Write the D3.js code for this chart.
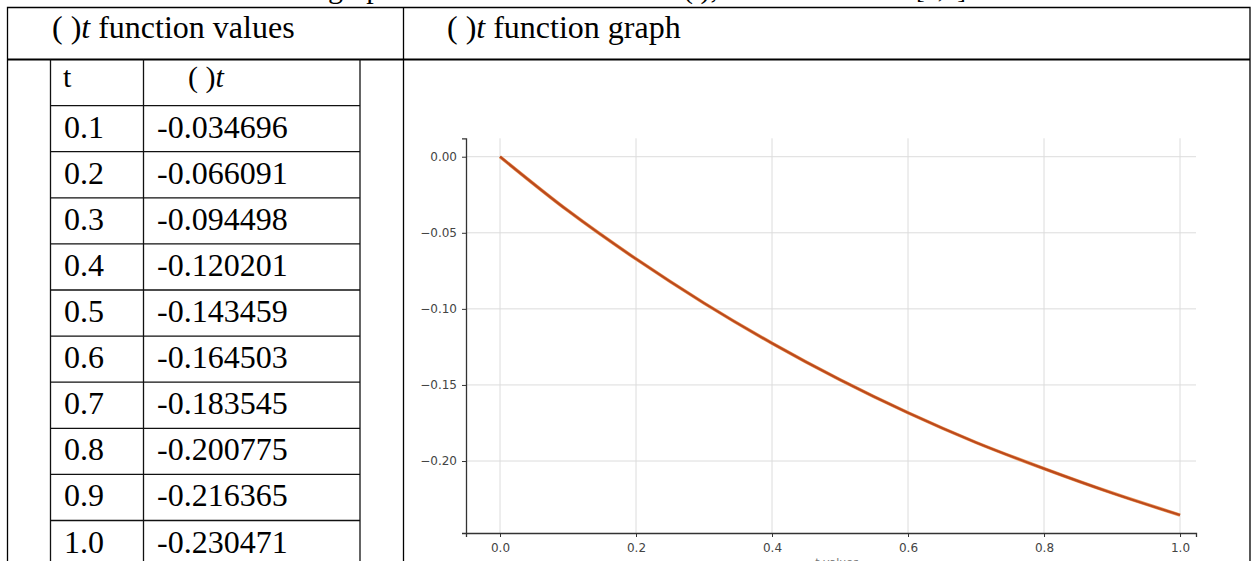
<!DOCTYPE html>
<html lang="en">
  <head>
    <meta charset="UTF-8" />
    <title>psi(t) table and graph</title>
    <script src="https://d3js.org/d3.v7.min.js"></script>
    <style>
      body {
        margin: 0;
        background-color: #ffffff;
      }
      .serif {
        font-family: "Liberation Serif", "Times New Roman", serif;
        fill: #000;
      }
      .tick text {
        font-family: "DejaVu Sans", sans-serif;
        fill: #444;
      }
    </style>
  </head>
  <body>
    <div id="my_dataviz"></div>
    <script>
      // table values
      var tLabels = ["0.1", "0.2", "0.3", "0.4", "0.5", "0.6", "0.7", "0.8", "0.9", "1.0"];
      var psiLabels = ["-0.034696", "-0.066091", "-0.094498", "-0.120201", "-0.143459",
        "-0.164503", "-0.183545", "-0.200775", "-0.216365", "-0.230471"];

      // curve
      var curveT = [0, 0.1, 0.2, 0.3, 0.4, 0.5, 0.6, 0.7, 0.8, 0.9, 1.0];
      var curvePsi = [0, -0.0355, -0.0672, -0.0962, -0.1226, -0.1466, -0.1683, -0.1878, -0.2050, -0.2210, -0.2355];

      var xTicks = [0.0, 0.2, 0.4, 0.6, 0.8, 1.0];
      var yTicks = [0.0, -0.05, -0.10, -0.15, -0.20];

      var width = 1256, height = 561;

      var svg = d3.select("#my_dataviz")
        .append("svg")
        .attr("width", width)
        .attr("height", height);

      // caption of the page, cut off at the top
      var caption = svg.append("text")
        .attr("class", "serif")
        .attr("y", -2)
        .style("font-size", "30px");
      caption.append("tspan").attr("x", 328).text("graph of the function");
      caption.append("tspan").attr("x", 683).text("( ),");
      caption.append("tspan").attr("x", 735).text("on the interval");
      caption.append("tspan").attr("x", 916).style("font-size", "26px").text("[0,1]");

      // outer table frame
      var frameL = 7.5, frameR = 1250, frameT = 7.5, headBottom = 59.5, divider = 403.5;
      svg.append("path")
        .attr("d", "M" + frameL + "," + height + "V" + frameT + "H" + frameR + "V" + height)
        .attr("fill", "none")
        .attr("stroke", "#000")
        .attr("stroke-width", 1.3);
      svg.append("line")
        .attr("x1", frameL).attr("x2", frameR)
        .attr("y1", headBottom).attr("y2", headBottom)
        .attr("stroke", "#000")
        .attr("stroke-width", 2.2);
      svg.append("line")
        .attr("x1", divider).attr("x2", divider)
        .attr("y1", frameT).attr("y2", height)
        .attr("stroke", "#000")
        .attr("stroke-width", 1.3);

      // header cells
      var h1 = svg.append("text").attr("class", "serif")
        .attr("x", 52).attr("y", 38).style("font-size", "32px");
      h1.append("tspan").text("( )");
      h1.append("tspan").style("font-style", "italic").text("t");
      h1.append("tspan").text(" function values");

      var h2 = svg.append("text").attr("class", "serif")
        .attr("x", 447).attr("y", 38).style("font-size", "32px");
      h2.append("tspan").text("( )");
      h2.append("tspan").style("font-style", "italic").text("t");
      h2.append("tspan").text(" function graph");

      // inner table
      var rowY = d3.scaleLinear().domain([0, 1]).range([headBottom, headBottom + 46.1]);
      var colA = 50.5, colB = 143.5, colC = 360;

      svg.selectAll("vline")
        .data([colA, colB, colC])
        .enter()
        .append("line")
        .attr("x1", function (d) { return d; })
        .attr("x2", function (d) { return d; })
        .attr("y1", headBottom)
        .attr("y2", height)
        .attr("stroke", "#111")
        .attr("stroke-width", 1.3);

      svg.selectAll("hline")
        .data(d3.range(1, tLabels.length + 1))
        .enter()
        .append("line")
        .attr("x1", colA)
        .attr("x2", colC)
        .attr("y1", function (d) { return rowY(d); })
        .attr("y2", function (d) { return rowY(d); })
        .attr("stroke", "#111")
        .attr("stroke-width", 1.3);

      svg.append("text").attr("class", "serif")
        .attr("x", 63).attr("y", rowY(0) + 27)
        .style("font-size", "30px")
        .text("t");
      var hp = svg.append("text").attr("class", "serif")
        .attr("x", 188).attr("y", rowY(0) + 27)
        .style("font-size", "30px");
      hp.append("tspan").text("( )");
      hp.append("tspan").style("font-style", "italic").text("t");

      svg.selectAll("tcell")
        .data(tLabels)
        .enter()
        .append("text")
        .attr("class", "serif")
        .attr("x", 64)
        .attr("y", function (d, i) { return rowY(i + 1) + 32; })
        .style("font-size", "32px")
        .text(function (d) { return d; });

      svg.selectAll("pcell")
        .data(psiLabels)
        .enter()
        .append("text")
        .attr("class", "serif")
        .attr("x", 157)
        .attr("y", function (d, i) { return rowY(i + 1) + 32; })
        .style("font-size", "32px")
        .text(function (d) { return d; });

      // the plot
      var x = d3.scaleLinear().domain([-0.05, 1.0235]).range([466, 1196]);
      var y = d3.scaleLinear().domain([-0.2473, 0.0121]).range([533, 138.3]);

      var plot = svg.append("g");

      // grid
      plot.selectAll("vgrid")
        .data(xTicks)
        .enter()
        .append("line")
        .attr("x1", function (d) { return x(d); })
        .attr("x2", function (d) { return x(d); })
        .attr("y1", y.range()[1])
        .attr("y2", y.range()[0])
        .attr("stroke", "#dcdcdc")
        .attr("stroke-width", 1);
      plot.selectAll("hgrid")
        .data(yTicks)
        .enter()
        .append("line")
        .attr("x1", x.range()[0])
        .attr("x2", x.range()[1])
        .attr("y1", function (d) { return y(d); })
        .attr("y2", function (d) { return y(d); })
        .attr("stroke", "#dcdcdc")
        .attr("stroke-width", 1);

      // axes, left and bottom only
      var fmtX = d3.format(".1f");
      var fmtY = function (d) { return d3.format(".2f")(d).replace("-", "\u2212"); };

      var xAxis = plot.append("g")
        .attr("transform", "translate(0," + y.range()[0] + ")")
        .call(d3.axisBottom(x).tickValues(xTicks).tickFormat(fmtX).tickSize(4).tickPadding(6));
      var yAxis = plot.append("g")
        .attr("transform", "translate(" + x.range()[0] + ",0)")
        .call(d3.axisLeft(y).tickValues(yTicks).tickFormat(fmtY).tickSize(4).tickPadding(5));

      [xAxis, yAxis].forEach(function (a) {
        a.select(".domain").attr("stroke", "#333").attr("stroke-width", 1.3);
        a.selectAll(".tick line").attr("stroke", "#333").attr("stroke-width", 1);
        a.selectAll(".tick text").style("font-size", "12px");
      });

      // x label, mostly below the page edge
      plot.append("text")
        .attr("x", 837)
        .attr("y", 566)
        .attr("text-anchor", "middle")
        .attr("font-family", "DejaVu Sans")
        .style("font-size", "11px")
        .attr("fill", "#777")
        .text("t values");

      // psi(t) curve
      var line = d3.line()
        .x(function (d, i) { return x(curveT[i]); })
        .y(function (d) { return y(d); })
        .curve(d3.curveMonotoneX);

      plot.append("path")
        .datum(curvePsi)
        .attr("d", line)
        .attr("fill", "none")
        .attr("stroke", "#e8955a")
        .attr("stroke-width", 3.4);
      plot.append("path")
        .datum(curvePsi)
        .attr("d", line)
        .attr("fill", "none")
        .attr("stroke", "#bc4a1c")
        .attr("stroke-width", 2.2);
    </script>
  </body>
</html>
